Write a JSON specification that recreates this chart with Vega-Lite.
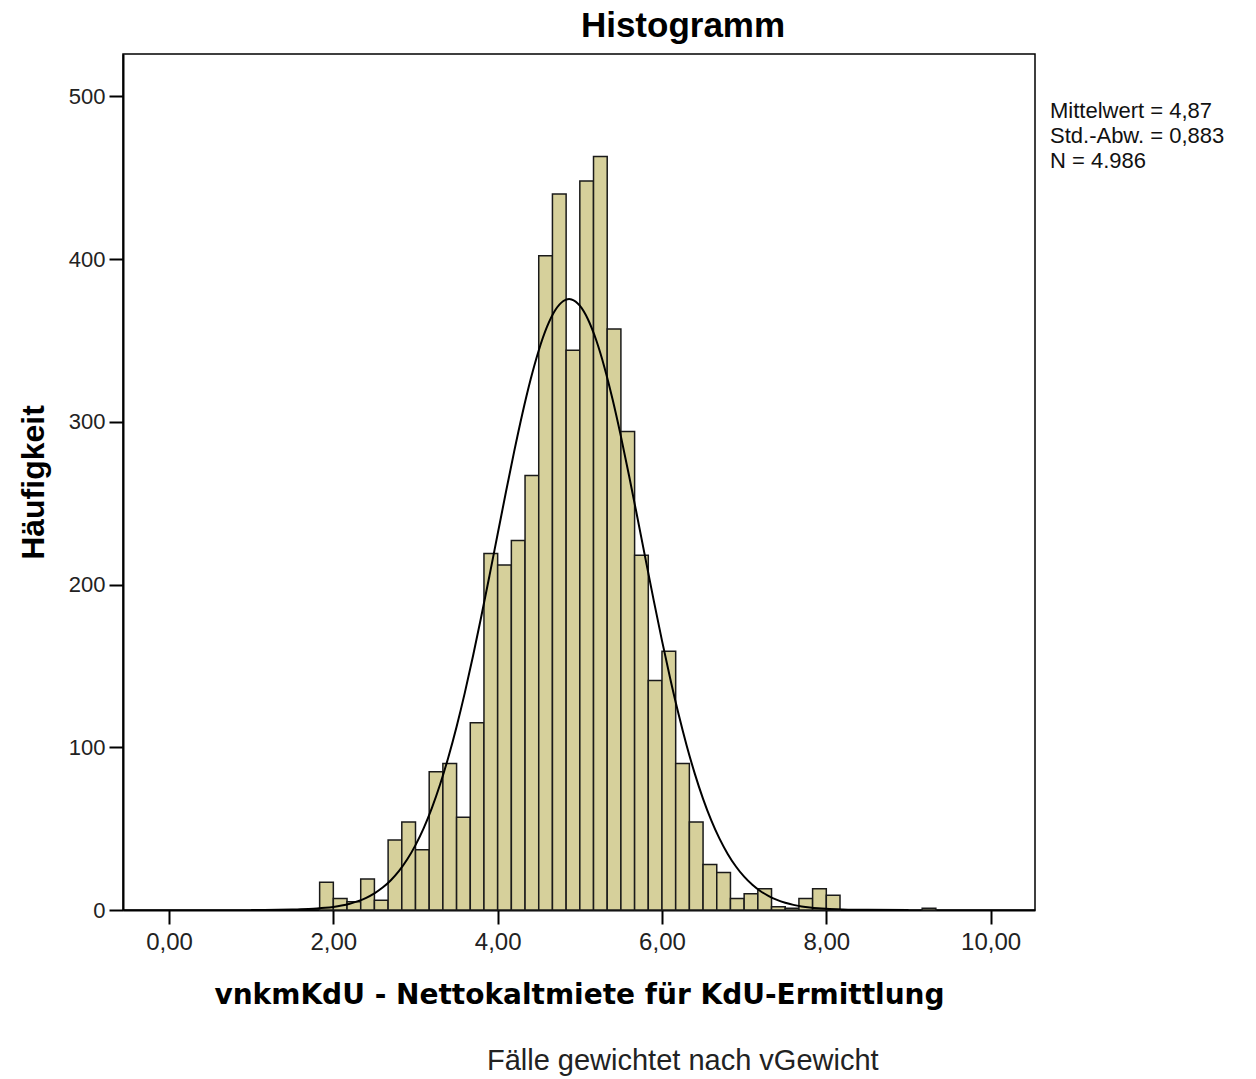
{
  "$schema": "https://vega.github.io/schema/vega-lite/v6.json",
  "background": "white",
  "padding": {"left": 16, "top": 8, "right": 0, "bottom": 0},
  "datasets": {
    "bins": [
      {"bin_start": 1.8333, "bin_end": 2.0, "count": 17},
      {"bin_start": 2.0, "bin_end": 2.1667, "count": 7},
      {"bin_start": 2.1667, "bin_end": 2.3333, "count": 5},
      {"bin_start": 2.3333, "bin_end": 2.5, "count": 19},
      {"bin_start": 2.5, "bin_end": 2.6667, "count": 6},
      {"bin_start": 2.6667, "bin_end": 2.8333, "count": 43},
      {"bin_start": 2.8333, "bin_end": 3.0, "count": 54},
      {"bin_start": 3.0, "bin_end": 3.1667, "count": 37},
      {"bin_start": 3.1667, "bin_end": 3.3333, "count": 85},
      {"bin_start": 3.3333, "bin_end": 3.5, "count": 90},
      {"bin_start": 3.5, "bin_end": 3.6667, "count": 57},
      {"bin_start": 3.6667, "bin_end": 3.8333, "count": 115},
      {"bin_start": 3.8333, "bin_end": 4.0, "count": 219},
      {"bin_start": 4.0, "bin_end": 4.1667, "count": 212},
      {"bin_start": 4.1667, "bin_end": 4.3333, "count": 227},
      {"bin_start": 4.3333, "bin_end": 4.5, "count": 267},
      {"bin_start": 4.5, "bin_end": 4.6667, "count": 402},
      {"bin_start": 4.6667, "bin_end": 4.8333, "count": 440},
      {"bin_start": 4.8333, "bin_end": 5.0, "count": 344},
      {"bin_start": 5.0, "bin_end": 5.1667, "count": 448},
      {"bin_start": 5.1667, "bin_end": 5.3333, "count": 463},
      {"bin_start": 5.3333, "bin_end": 5.5, "count": 357},
      {"bin_start": 5.5, "bin_end": 5.6667, "count": 294},
      {"bin_start": 5.6667, "bin_end": 5.8333, "count": 218},
      {"bin_start": 5.8333, "bin_end": 6.0, "count": 141},
      {"bin_start": 6.0, "bin_end": 6.1667, "count": 159},
      {"bin_start": 6.1667, "bin_end": 6.3333, "count": 90},
      {"bin_start": 6.3333, "bin_end": 6.5, "count": 54},
      {"bin_start": 6.5, "bin_end": 6.6667, "count": 28},
      {"bin_start": 6.6667, "bin_end": 6.8333, "count": 23},
      {"bin_start": 6.8333, "bin_end": 7.0, "count": 7},
      {"bin_start": 7.0, "bin_end": 7.1667, "count": 10},
      {"bin_start": 7.1667, "bin_end": 7.3333, "count": 13},
      {"bin_start": 7.3333, "bin_end": 7.5, "count": 2},
      {"bin_start": 7.5, "bin_end": 7.6667, "count": 1},
      {"bin_start": 7.6667, "bin_end": 7.8333, "count": 7},
      {"bin_start": 7.8333, "bin_end": 8.0, "count": 13},
      {"bin_start": 8.0, "bin_end": 8.1667, "count": 9},
      {"bin_start": 9.1667, "bin_end": 9.3333, "count": 1}
    ],
    "curve": [
      {"x": 1.0, "y": 0.03}, {"x": 1.5, "y": 0.26}, {"x": 1.6, "y": 0.39}, {"x": 1.7, "y": 0.6},
      {"x": 1.8, "y": 0.89}, {"x": 1.9, "y": 1.31}, {"x": 2.0, "y": 1.91}, {"x": 2.1, "y": 2.74},
      {"x": 2.2, "y": 3.88}, {"x": 2.3, "y": 5.43}, {"x": 2.4, "y": 7.51}, {"x": 2.5, "y": 10.24},
      {"x": 2.6, "y": 13.79}, {"x": 2.7, "y": 18.32}, {"x": 2.8, "y": 24.04}, {"x": 2.9, "y": 31.15},
      {"x": 3.0, "y": 39.86}, {"x": 3.1, "y": 50.34}, {"x": 3.2, "y": 62.78}, {"x": 3.3, "y": 77.27},
      {"x": 3.4, "y": 93.91}, {"x": 3.5, "y": 112.67}, {"x": 3.6, "y": 133.43}, {"x": 3.7, "y": 156.05},
      {"x": 3.8, "y": 180.15}, {"x": 3.9, "y": 205.33}, {"x": 4.0, "y": 231.05}, {"x": 4.1, "y": 256.66},
      {"x": 4.2, "y": 281.5}, {"x": 4.3, "y": 304.8}, {"x": 4.4, "y": 325.81}, {"x": 4.5, "y": 343.85},
      {"x": 4.6, "y": 358.26}, {"x": 4.7, "y": 368.51}, {"x": 4.8, "y": 374.22}, {"x": 4.87, "y": 375.4},
      {"x": 4.9, "y": 375.18}, {"x": 5.0, "y": 371.35}, {"x": 5.1, "y": 362.88}, {"x": 5.2, "y": 350.08},
      {"x": 5.3, "y": 333.42}, {"x": 5.4, "y": 313.52}, {"x": 5.5, "y": 291.04}, {"x": 5.6, "y": 266.73},
      {"x": 5.7, "y": 241.34}, {"x": 5.8, "y": 215.58}, {"x": 5.9, "y": 190.12}, {"x": 6.0, "y": 165.53},
      {"x": 6.1, "y": 142.28}, {"x": 6.2, "y": 120.74}, {"x": 6.3, "y": 101.15}, {"x": 6.4, "y": 83.67},
      {"x": 6.5, "y": 68.32}, {"x": 6.6, "y": 55.08}, {"x": 6.7, "y": 43.83}, {"x": 6.8, "y": 34.45},
      {"x": 6.9, "y": 26.71}, {"x": 7.0, "y": 20.46}, {"x": 7.1, "y": 15.47}, {"x": 7.2, "y": 11.55},
      {"x": 7.3, "y": 8.51}, {"x": 7.4, "y": 6.19}, {"x": 7.5, "y": 4.45}, {"x": 7.6, "y": 3.15},
      {"x": 7.7, "y": 2.21}, {"x": 7.8, "y": 1.53}, {"x": 7.9, "y": 1.04}, {"x": 8.0, "y": 0.7},
      {"x": 8.2, "y": 0.31}, {"x": 8.5, "y": 0.08}, {"x": 9.0, "y": 0.01}
    ],
    "stats": [
      {"stat": "Mittelwert = 4,87"},
      {"stat": "Std.-Abw. = 0,883"},
      {"stat": "N = 4.986"}
    ]
  },
  "title": {
    "text": "Fälle gewichtet nach vGewicht",
    "orient": "bottom",
    "anchor": "middle",
    "dx": 62,
    "offset": 37,
    "font": "Liberation Sans",
    "fontSize": 29,
    "fontWeight": "normal",
    "color": "#222222"
  },
  "vconcat": [
    {
      "width": 912,
      "height": 856,
      "title": {
        "text": "Histogramm",
        "anchor": "middle",
        "dx": 104,
        "offset": 10,
        "font": "Liberation Sans",
        "fontSize": 35,
        "fontWeight": "bold",
        "color": "#000000"
      },
      "layer": [
        {
          "data": {"name": "bins"},
          "mark": {"type": "rect", "fill": "#d6d09b", "stroke": "#1a1a1a", "strokeWidth": 1.5},
          "encoding": {
            "x": {
              "field": "bin_start", "type": "quantitative",
              "scale": {"domain": [-0.56, 10.54], "nice": false, "zero": false},
              "axis": {
                "values": [0, 2, 4, 6, 8, 10],
                "labelExpr": "replace(format(datum.value, '.2f'), '.', ',')",
                "title": "vnkmKdU - Nettokaltmiete für KdU-Ermittlung",
                "titleFont": "DejaVu Sans",
                "titleFontSize": 28,
                "titleFontWeight": "bold",
                "titleColor": "#000000",
                "titlePadding": 27,
                "labelFont": "Liberation Sans",
                "labelFontSize": 24,
                "labelColor": "#222222",
                "labelPadding": 6,
                "tickSize": 14,
                "tickWidth": 2,
                "tickColor": "#000000",
                "domainColor": "#000000",
                "domainWidth": 2,
                "grid": false
              }
            },
            "x2": {"field": "bin_end"},
            "y": {
              "field": "count", "type": "quantitative",
              "scale": {"domain": [0, 526], "nice": false},
              "axis": {
                "values": [0, 100, 200, 300, 400, 500],
                "title": "Häufigkeit",
                "titleFont": "Liberation Sans",
                "titleFontSize": 32,
                "titleFontWeight": "bold",
                "titleColor": "#000000",
                "titlePadding": 18,
                "labelFont": "Liberation Sans",
                "labelFontSize": 22,
                "labelColor": "#222222",
                "labelPadding": 4,
                "tickSize": 14,
                "tickWidth": 2,
                "tickColor": "#000000",
                "domainColor": "#000000",
                "domainWidth": 2,
                "grid": false
              }
            },
            "y2": {"datum": 0}
          }
        },
        {
          "data": {"name": "curve"},
          "mark": {"type": "line", "color": "#000000", "strokeWidth": 2, "interpolate": "monotone", "clip": true},
          "encoding": {
            "x": {"field": "x", "type": "quantitative"},
            "y": {"field": "y", "type": "quantitative"}
          }
        },
        {
          "data": {"name": "stats"},
          "mark": {"type": "point", "opacity": 0, "size": 0},
          "encoding": {
            "color": {
              "field": "stat", "type": "nominal",
              "scale": {"domain": ["Mittelwert = 4,87", "Std.-Abw. = 0,883", "N = 4.986"], "range": ["#000000", "#000000", "#000000"]},
              "legend": {
                "title": null,
                "orient": "none",
                "legendX": 905,
                "legendY": 46,
                "symbolSize": 0,
                "symbolStrokeWidth": 0,
                "symbolOpacity": 0,
                "labelOffset": 0,
                "padding": 0,
                "rowPadding": 3,
                "labelFont": "Liberation Sans",
                "labelFontSize": 22,
                "labelColor": "#111111",
                "labelLimit": 400
              }
            }
          }
        }
      ]
    }
  ],
  "config": {
    "view": {"stroke": "#000000", "strokeWidth": 1.5, "fill": "#f0f0f0"}
  }
}
